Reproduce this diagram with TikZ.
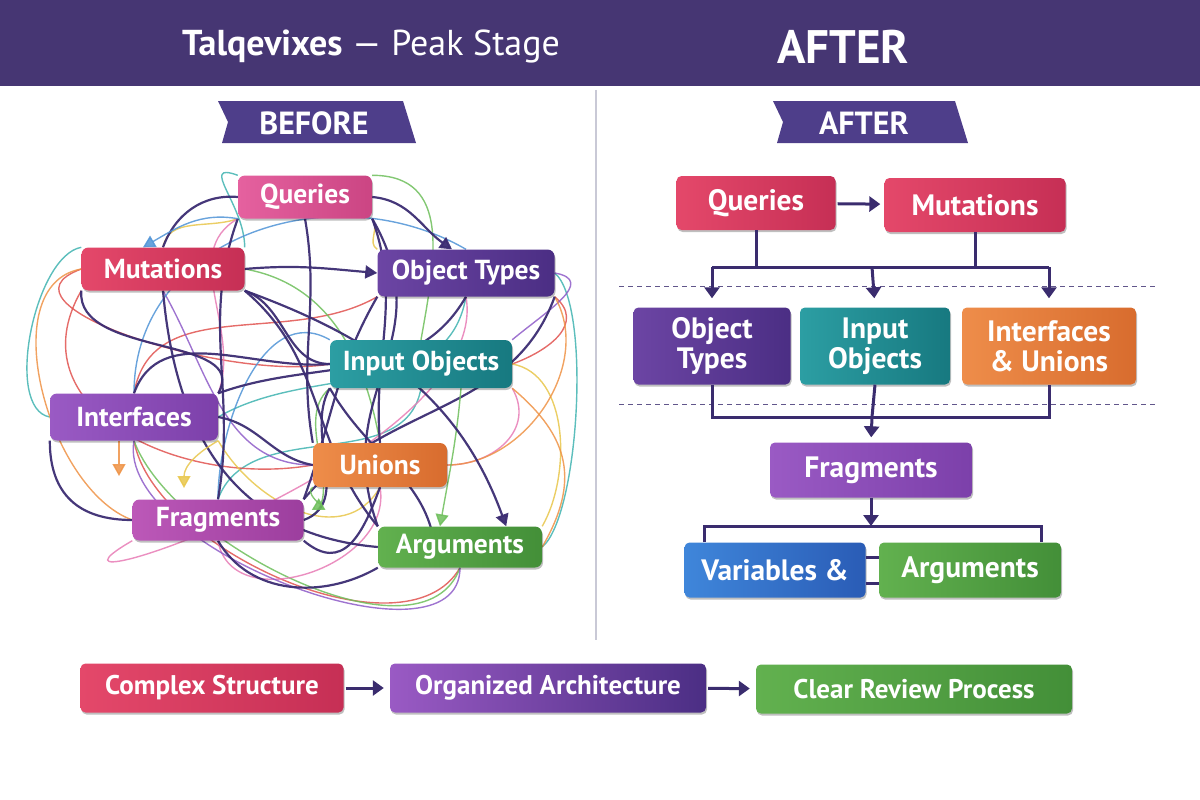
\documentclass[tikz,border=0pt]{standalone}
\usepackage{fontspec}
\setmainfont{PT Sans}
\usetikzlibrary{arrows.meta,shadows,backgrounds}

\definecolor{hdr}{HTML}{463673}
\definecolor{ribbon}{HTML}{4E3E8A}
\definecolor{wirec}{HTML}{3A2C6E}
\definecolor{divc}{HTML}{C9C9D6}
% box colours (light / dark)
\definecolor{pinkA}{HTML}{E5619F}\definecolor{pinkB}{HTML}{CB4583}
\definecolor{redA}{HTML}{E4486A}\definecolor{redB}{HTML}{C62F55}
\definecolor{plumA}{HTML}{6C45A4}\definecolor{plumB}{HTML}{4B2E84}
\definecolor{tealA}{HTML}{2C9EA3}\definecolor{tealB}{HTML}{177980}
\definecolor{violA}{HTML}{9A5AC4}\definecolor{violB}{HTML}{7C40AA}
\definecolor{orngA}{HTML}{EE8D4A}\definecolor{orngB}{HTML}{D86C2E}
\definecolor{magA}{HTML}{BC58B8}\definecolor{magB}{HTML}{9C3E9E}
\definecolor{grnA}{HTML}{62B14F}\definecolor{grnB}{HTML}{438F38}
\definecolor{bluA}{HTML}{3F86DA}\definecolor{bluB}{HTML}{2A5CB6}
% thread colours
\definecolor{lnavy}{HTML}{3B2C72}
\definecolor{lteal}{HTML}{3FB3B0}
\definecolor{lgreen}{HTML}{6DBE5A}
\definecolor{lyellow}{HTML}{E8C64A}
\definecolor{lred}{HTML}{E0524F}
\definecolor{lpink}{HTML}{E77BB5}
\definecolor{lpurple}{HTML}{8E5CC8}
\definecolor{lblue}{HTML}{4F93D6}
\definecolor{lorange}{HTML}{EE9245}

\begin{document}
\begin{tikzpicture}[x=1pt,y=-1pt]
        \tikzset{
            box/.style={rounded corners=7pt, inner sep=0pt, text=white, align=center,
                font=\bfseries\fontsize{27.5}{29}\selectfont,
                drop shadow={shadow xshift=1pt, shadow yshift=-2pt, opacity=.25, fill=black}},
            flatbox/.style={box, rounded corners=5pt, font=\bfseries\fontsize{29.5}{30}\selectfont},
            stepbox/.style={box, rounded corners=5pt, font=\bfseries\fontsize{27}{29}\selectfont,
                minimum height=49pt},
            knot/.style={line width=2.2pt, draw=lnavy, opacity=.95},
            thread/.style={line width=1.4pt, opacity=.85},
            wire/.style={line width=3pt, draw=wirec},
            flow/.style={wire, -{Triangle[length=11pt,width=15pt]}},
            sep/.style={dashed, line width=1pt, draw=wirec!80, dash pattern=on 5pt off 4pt},
            tip/.style={-{Triangle[length=12pt,width=13pt]}}
        }
        \useasboundingbox (0,0) rectangle (1200,800);

        % Header
        \fill[hdr] (0,0) rectangle (1200,86);
        \node[text=white, font=\fontsize{36}{38}\selectfont] (title) at (371,47)
            {\textbf{Talqevixes} — Peak Stage};
        \node[text=white, font=\bfseries\fontsize{47}{49}\selectfont] (aftertitle) at (843,47) {AFTER};
        \draw[divc, line width=1.5pt] (596,90) -- (596,640);

        % Ribbons
        \fill[ribbon] (218,101) -- (403,101) -- (416,143) -- (222,143) -- (228,122) -- cycle;
        \node[text=white, font=\bfseries\fontsize{32}{34}\selectfont] (before) at (314,123) {BEFORE};
        \fill[ribbon] (773,101) -- (955,101) -- (968,143) -- (777,143) -- (783,122) -- cycle;
        \node[text=white, font=\bfseries\fontsize{32}{34}\selectfont] (after) at (864,123) {AFTER};

        % Before: tangled nodes
        \node[box, left color=pinkA, right color=pinkB, minimum width=134pt, minimum height=43pt] (qry) at (305,197) {Queries};
        \node[box, left color=redA, right color=redB, minimum width=163pt, minimum height=43pt] (mut) at (163,269) {Mutations};
        \node[box, left color=plumA, right color=plumB, minimum width=177pt, minimum height=47pt] (obj) at (466,273) {Object Types};
        \node[box, left color=tealA, right color=tealB, minimum width=182pt, minimum height=48pt] (inp) at (421,364) {Input Objects};
        \node[box, left color=violA, right color=violB, minimum width=168pt, minimum height=47pt] (itf) at (134,417) {Interfaces};
        \node[box, left color=orngA, right color=orngB, minimum width=134pt, minimum height=44pt] (uni) at (380,465) {Unions};
        \node[box, left color=magA, right color=magB, minimum width=171pt, minimum height=41pt] (frg) at (218,520) {Fragments};
        \node[box, left color=grnA, right color=grnB, minimum width=164pt, minimum height=41pt] (arg) at (460,547) {Arguments};
        \coordinate (itfdrop) at (119,476);
        \coordinate (frgdrop) at (184,488);

        \begin{scope}[on background layer]
        % threads
        \foreach \p/\q/\o/\i/\l/\c in {
            qry.north west/mut.north east/160/90/1.5/lteal,
            obj.east/arg.east/-40/40/0.45/lteal,
            inp.south/frg.north/-100/70/1/lteal,
            itf.east/obj.south/30/-100/1/lteal,
            mut.north west/itf.west/190/170/0.7/lteal,
            mut.west/inp.west/-160/-170/1.0/lred,
            itf.north/obj.south west/80/-150/1/lred,
            obj.south east/inp.east/-40/20/1.3/lred,
            mut.south west/uni.west/-120/-170/1.2/lred,
            arg.south/itf.south/-120/-80/0.8/lred,
            qry.south east/obj.north west/-50/150/1/lyellow,
            inp.east/arg.north east/-10/60/0.9/lyellow,
            mut.north/qry.south west/80/-160/1/lyellow,
            uni.south/itf.south east/-120/-60/1.1/lyellow,
            frg.east/inp.south west/20/-140/1/lgreen,
            mut.east/uni.north/-10/100/1/lgreen,
            itf.south/arg.south/-70/-110/0.8/lgreen,
            qry.north east/inp.north/0/80/1.2/lgreen,
            qry.south west/itf.north east/-150/70/1/lpink,
            inp.south east/uni.east/-60/0/1.2/lpink,
            frg.south/uni.south/-80/-80/1.2/lpink,
            obj.south/frg.south west/-80/-150/1.0/lpink,
            mut.south/uni.west/-60/180/1/lpurple,
            obj.east/inp.north east/-10/40/1.4/lpurple,
            itf.south/arg.south/-100/-90/0.8/lpurple,
            inp.north west/frg.north/150/90/1/lblue,
            obj.north/itf.north/150/90/1.1/lblue,
            uni.east/obj.south east/0/-60/1/lorange,
            frg.west/mut.west/160/-170/0.9/lorange,
            arg.east/inp.south east/60/-40/1.2/lorange}
            \draw[thread, draw=\c] (\p) to[out=\o, in=\i, looseness=\l] (\q);
        \foreach \p/\q/\o/\i/\l in {
            qry.west/mut.north/175/70/1,
            qry.south west/frg.north/-110/80/1,
            qry.south/uni.north west/-80/100/1,
            qry.south east/arg.north west/-60/110/1.2,
            mut.south/arg.west/-85/175/1.1,
            mut.south east/inp.west/-20/180/1,
            mut.south west/itf.north east/-95/60/1,
            itf.south west/frg.west/-90/180/1.2,
            itf.east/uni.west/-10/170/1,
            obj.south/itf.north east/-120/20/1,
            obj.south west/frg.north east/-120/70/1,
            inp.west/itf.north/185/70/1,
            inp.south west/frg.east/-120/20/1,
            uni.south/frg.south east/-110/-40/1.4,
            frg.south/arg.south west/-60/-150/1,
            frg.north east/obj.south east/50/-110/1,
            arg.north west/mut.south east/130/-40/1,
            uni.north/qry.south east/95/-70/1}
            \draw[knot] (\p) to[out=\o, in=\i, looseness=\l] (\q);
        % threads with heads
        \draw[knot, tip] (qry.east) to[out=-5, in=145] ([xshift=-14pt]obj.north);
        \draw[knot, tip] (mut.east) to[out=5, in=175] (obj.west);
        \draw[thread, lblue, tip] (qry.south west) to[out=170, in=30] ([xshift=-20pt]mut.north);
        \draw[thread, lorange, tip] (itf.south -| itfdrop) -- (itfdrop);
        \draw[thread, lyellow, tip] (itf.south east) to[out=-150, in=90] (frgdrop);
        \draw[thread, lgreen, tip] (uni.south west) to[out=-150, in=30] ([xshift=8pt,yshift=10pt]frg.east);
        \draw[thread, lgreen, tip] ([xshift=40pt]inp.south) to[out=-95, in=80] ([xshift=-20pt]arg.north);
        \draw[knot, tip] (mut.south east) to[out=-20, in=110] ([xshift=-36pt]arg.north east);
        \draw[knot, tip] (inp.south west) to[out=-60, in=100] ([xshift=-24pt,yshift=-26pt]arg.north);
        \end{scope}

        % After: layered nodes
        \node[flatbox, left color=redA, right color=redB, minimum width=159pt, minimum height=54pt] (aqry) at (756,203) {Queries};
        \node[flatbox, left color=redA, right color=redB, minimum width=181pt, minimum height=54pt] (amut) at (975,205) {Mutations};
        \node[flatbox, left color=plumA, right color=plumB, minimum width=157pt, minimum height=77pt] (aobj) at (712,346) {Object\\Types};
        \node[flatbox, left color=tealA, right color=tealB, minimum width=150pt, minimum height=77pt] (ainp) at (875,346) {Input\\Objects};
        \node[flatbox, left color=orngA, right color=orngB, minimum width=174pt, minimum height=77pt] (aitf) at (1049,346) {Interfaces\\\& Unions};
        \node[flatbox, left color=violA, right color=violB, minimum width=202pt, minimum height=55pt] (afrg) at (871,470) {Fragments};
        \node[flatbox, left color=bluA, right color=bluB, minimum width=181pt, minimum height=55pt] (avar) at (775,570) {Variables \&};
        \node[flatbox, left color=grnA, right color=grnB, minimum width=182pt, minimum height=55pt] (aarg) at (970,570) {Arguments};
        \coordinate (split) at (872,267);
        \coordinate (merge) at (872,417);
        \coordinate (fork) at (871,526);
        \coordinate (forkl) at (704,526);
        \coordinate (forkr) at (1041,526);

        \draw[sep] (619,286) -- (1157,286);
        \draw[sep] (619,404) -- (1157,404);

        \draw[flow, shorten <=2pt, shorten >=4pt] (aqry) -- (amut);
        \draw[wire] (aqry.south) |- (split) -| (amut.south);
        \draw[wire] (aobj.north |- split) -- (aitf.north |- split);
        \draw[flow, shorten >=9pt] (split) -- (ainp.north);
        \draw[flow, shorten >=9pt] (aobj.north |- split) -- (aobj.north);
        \draw[flow, shorten >=9pt] (aitf.north |- split) -- (aitf.north);
        \draw[wire] (aobj.south) |- (merge) -| (aitf.south);
        \draw[wire] (ainp.south) -- (merge);
        \draw[flow, shorten >=5pt] (merge) -- (afrg.north);
        \draw[flow] (afrg.south) -- (fork);
        \draw[wire] (avar.north -| forkl) |- (fork) -| (aarg.north -| forkr);
        \draw[wire] ([yshift=-15pt]avar.north east) -- ([yshift=-15pt]aarg.north west);
        \draw[wire] ([yshift=14pt]avar.south east) -- ([yshift=14pt]aarg.south west);

        % Bottom process strip
        \node[stepbox, left color=redA, right color=redB, minimum width=263pt] (cplx) at (212,688) {Complex Structure};
        \node[stepbox, left color=violA, right color=plumB, minimum width=316pt] (orga) at (548,688) {Organized Architecture};
        \node[stepbox, left color=grnA, right color=grnB, minimum width=316pt] (clr) at (914,689) {Clear Review Process};
        \draw[flow, shorten <=2pt, shorten >=6pt] (cplx) -- (orga);
        \draw[flow, shorten <=2pt, shorten >=6pt] (orga) -- (clr);
\end{tikzpicture}
\end{document}
